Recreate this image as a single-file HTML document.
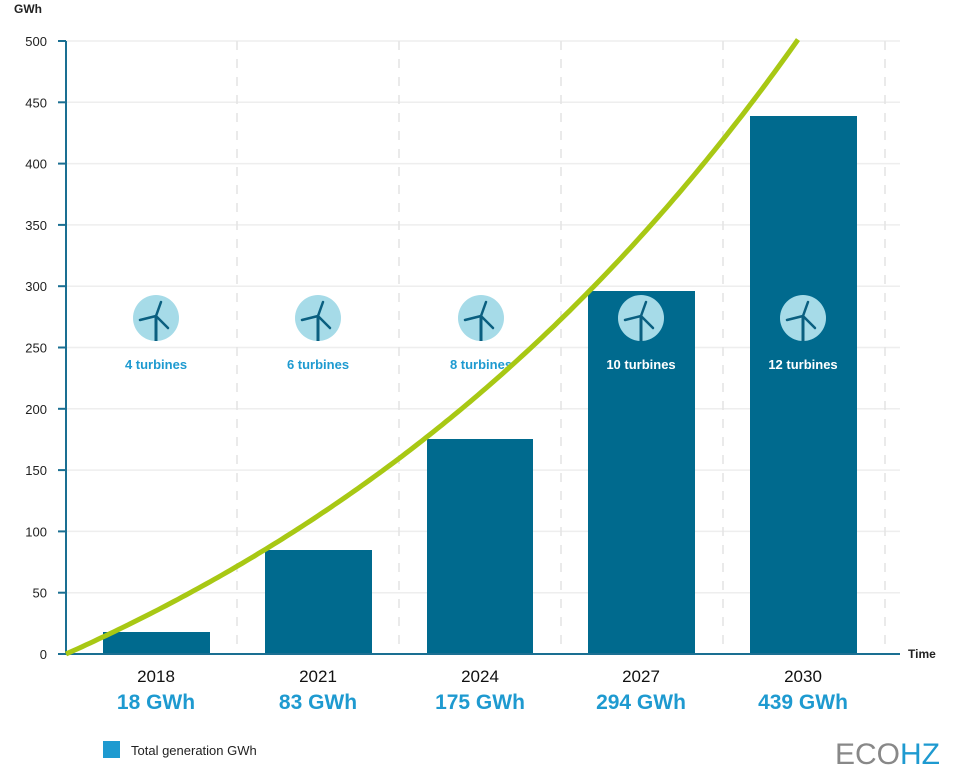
<!DOCTYPE html><html><head><style>body{margin:0;background:#fff}svg{font-family:"Liberation Sans",sans-serif}</style></head><body>
<svg id="s" width="954" height="774" xmlns="http://www.w3.org/2000/svg">
<g id="grid" stroke="#eeeeee" stroke-width="1.5"></g>
<g stroke="#e4e4e4" stroke-width="1.5" stroke-dasharray="9,9">
<line x1="237" y1="41" x2="237" y2="654"/><line x1="399" y1="41" x2="399" y2="654"/><line x1="561" y1="41" x2="561" y2="654"/><line x1="723" y1="41" x2="723" y2="654"/><line x1="885" y1="41" x2="885" y2="654"/></g>
<g fill="#006a8e">
<rect x="103" y="632" width="107" height="22"/><rect x="265" y="550" width="107" height="104"/><rect x="427" y="439" width="106" height="215"/><rect x="588" y="291" width="107" height="363"/><rect x="750" y="116" width="107" height="538"/></g>
<g id="ticks" font-size="13" fill="#222" text-anchor="end"></g>
<line x1="66" y1="41" x2="66" y2="655" stroke="#1a6f92" stroke-width="2"/>
<line x1="65" y1="654" x2="900" y2="654" stroke="#1a6f92" stroke-width="2"/>
<text x="14" y="13" font-size="12" font-weight="bold" fill="#222">GWh</text>
<text x="908" y="658" font-size="12" font-weight="bold" fill="#222">Time</text>
<g id="icons"></g>
<g font-size="13" font-weight="bold" text-anchor="middle">
<text x="156" y="369" fill="#1e9ad0">4 turbines</text><text x="318" y="369" fill="#1e9ad0">6 turbines</text><text x="481" y="369" fill="#1e9ad0">8 turbines</text><text x="641" y="369" fill="#fff">10 turbines</text><text x="803" y="369" fill="#fff">12 turbines</text></g>
<g font-size="17" fill="#111" text-anchor="middle">
<text x="156" y="682">2018</text><text x="318" y="682">2021</text><text x="480" y="682">2024</text><text x="641" y="682">2027</text><text x="803" y="682">2030</text></g>
<g font-size="21" fill="#1e9ad0" text-anchor="middle" font-weight="bold">
<text x="156" y="709">18 GWh</text><text x="318" y="709">83 GWh</text><text x="480" y="709">175 GWh</text><text x="641" y="709">294 GWh</text><text x="803" y="709">439 GWh</text></g>
<polyline id="curve" fill="none" stroke="#a8c814" stroke-width="5"/>
<rect x="103" y="741" width="17" height="17" fill="#1e9ad0"/>
<text x="131" y="755" font-size="13" fill="#222">Total generation GWh</text>
<text x="940" y="764" font-size="30" text-anchor="end" fill="#888"><tspan>ECO</tspan><tspan fill="#1e9ad0">HZ</tspan></text>
</svg>
<script>
var ns="http://www.w3.org/2000/svg";function el(t,a,p){var e=document.createElementNS(ns,t);for(var k in a)e.setAttribute(k,a[k]);document.getElementById(p).appendChild(e);return e}
for(var v=0;v<=500;v+=50){var y=654-v*1.226;if(v>0)el("line",{x1:66,y1:y,x2:900,y2:y},"grid");el("line",{x1:58,y1:y,x2:66,y2:y,stroke:"#1a6f92","stroke-width":2},"ticks");el("text",{x:47,y:y+5},"ticks").textContent=v;}
var pts=[],k=1.15;for(var x=66;x<=800;x+=4){var t=(x-66)/731;var val=500*(Math.exp(k*t)-1)/(Math.exp(k)-1);pts.push(x+","+(654-val*1.226).toFixed(1));}
document.getElementById("curve").setAttribute("points",pts.join(" "));
[156,318,481,641,803].forEach(function(cx){var cy=318;el("circle",{cx:cx,cy:cy,r:23,fill:"#a6dbe8"},"icons");var g=el("g",{stroke:"#0a5f80","stroke-width":2.5,"stroke-linecap":"round",fill:"none"},"icons");
el("line",{x1:cx,y1:cy-2,x2:cx,y2:cy+23},"icons").setAttribute("stroke","#0a5f80");
[[cx,cy-2,cx+5,cy-16],[cx,cy-2,cx-16,cy+2],[cx,cy-2,cx+12,cy+10]].forEach(function(l){el("line",{x1:l[0],y1:l[1],x2:l[2],y2:l[3],stroke:"#0a5f80","stroke-width":2.5,"stroke-linecap":"round"},"icons")});});
document.querySelectorAll("#icons line").forEach(function(l){if(!l.getAttribute("stroke-width"))l.setAttribute("stroke-width",3)});
</script></body></html>
